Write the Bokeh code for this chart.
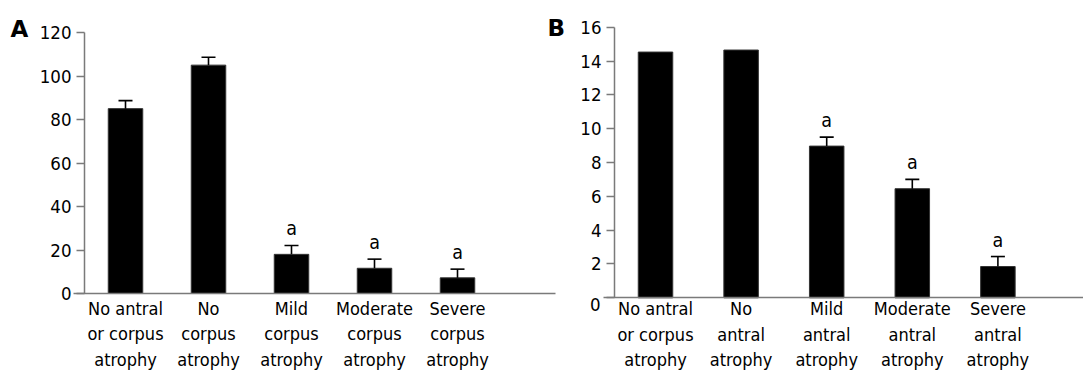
from bokeh.plotting import figure
from bokeh.layouts import row
from bokeh.models import FixedTicker, Label, Range1d
from bokeh.core.properties import value
from bokeh.embed import file_html
from bokeh.resources import INLINE

FONT = "DejaVu Sans Condensed"

# ---------------- data ----------------
cats_a = ["No antral\nor corpus\natrophy", "No\ncorpus\natrophy", "Mild\ncorpus\natrophy",
          "Moderate\ncorpus\natrophy", "Severe\ncorpus\natrophy"]
vals_a = [85.0, 105.0, 18.0, 11.6, 7.2]
errs_a = [3.7, 3.6, 4.1, 4.2, 4.0]
sig_a = ["", "", "a", "a", "a"]
yticks_a = [0, 20, 40, 60, 80, 100, 120]

cats_b = ["No antral\nor corpus\natrophy", "No\nantral\natrophy", "Mild\nantral\natrophy",
          "Moderate\nantral\natrophy", "Severe\nantral\natrophy"]
vals_b = [14.53, 14.65, 8.97, 6.45, 1.85]
errs_b = [0.0, 0.0, 0.53, 0.55, 0.59]
sig_b = ["", "", "a", "a", "a"]
yticks_b = [0, 2, 4, 6, 8, 10, 12, 14, 16]

AXIS_COLOR = "#7a7a7a"
H = 372


class Geo:
    """pixel layout of one panel (canvas-local pixels)"""
    def __init__(self, width, bar1_px, step_px, zero_py, top_py, ymax, axis_px, xline_start_px,
                 xline_end_px):
        self.width = width
        self.bar1 = bar1_px
        self.step = step_px
        self.zero = zero_py
        self.ppu = (zero_py - top_py) / ymax
        self.axis_px = axis_px
        self.xs_px = xline_start_px
        self.xe_px = xline_end_px

    def dx(self, px):
        return 1 + (px - self.bar1) / self.step

    def dy(self, py):
        return (self.zero - py) / self.ppu


def make_panel(g, cats, vals, errs, sig, yticks, ymax, x_standoff, cap_px):
    xs = list(range(1, len(cats) + 1))
    p = figure(width=g.width, height=H, output_backend="svg", toolbar_location=None,
               x_range=Range1d(g.dx(0), g.dx(g.width)), y_range=Range1d(g.dy(H), g.dy(0)),
               min_border_left=0, min_border_right=0, min_border_top=0, min_border_bottom=0)
    p.outline_line_color = None
    p.grid.visible = False
    p.background_fill_color = "white"
    p.border_fill_color = "white"

    p.vbar(x=xs, top=vals, bottom=0, width=34.5 / g.step, fill_color="black",
           line_color="#333333", line_width=1)

    ex, ey0, ey1 = [], [], []
    for x, v, e in zip(xs, vals, errs):
        if e > 0:
            ex.append(x); ey0.append(v); ey1.append(v + e)
    half = cap_px / 2 / g.step
    p.segment(x0=ex, y0=ey0, x1=ex, y1=ey1, line_color="black", line_width=1.6)
    p.segment(x0=[x - half for x in ex], y0=ey1, x1=[x + half for x in ex], y1=ey1,
              line_color="black", line_width=1.6)

    p.text(x=xs, y=[v + e for v, e in zip(vals, errs)], text=sig, text_align="center",
           text_baseline="middle", y_offset=-16.5, text_font=value(FONT), text_font_size="19.5px",
           text_color="black")

    ax_x = g.dx(g.axis_px)

    # y axis
    ya = p.yaxis[0]
    ya.fixed_location = ax_x
    ya.bounds = (0, ymax)
    ya.ticker = FixedTicker(ticks=yticks)
    ya.minor_tick_line_color = None
    ya.major_tick_in = 0
    ya.major_tick_out = 8
    ya.axis_line_color = AXIS_COLOR
    ya.major_tick_line_color = AXIS_COLOR
    ya.axis_line_width = 1.5
    ya.major_tick_line_width = 1.5
    ya.major_label_standoff = 5
    ya.major_label_text_font = FONT
    ya.major_label_text_font_size = "18.5px"
    ya.major_label_text_color = "black"

    # x axis
    xa = p.xaxis[0]
    xa.fixed_location = 0
    xa.bounds = (g.dx(g.xs_px), g.dx(g.xe_px))
    xa.ticker = FixedTicker(ticks=xs)
    xa.major_label_overrides = {x: c for x, c in zip(xs, cats)}
    xa.minor_tick_line_color = None
    xa.major_tick_line_color = None
    xa.major_tick_in = 0
    xa.major_tick_out = 0
    xa.axis_line_color = AXIS_COLOR
    xa.axis_line_width = 1.5
    xa.major_label_standoff = x_standoff
    xa.major_label_text_font = FONT
    xa.major_label_text_font_size = "18px"
    xa.major_label_text_line_height = 1.23
    xa.major_label_text_color = "black"
    return p


ga = Geo(width=565, bar1_px=125, step_px=83, zero_py=293, top_py=32, ymax=120,
         axis_px=84, xline_start_px=73, xline_end_px=555)
gb = Geo(width=518, bar1_px=90, step_px=85.6, zero_py=297.3, top_py=26.7, ymax=16,
         axis_px=49, xline_start_px=38, xline_end_px=518)

pa = make_panel(ga, cats_a, vals_a, errs_a, sig_a, yticks_a, 120, 4, 14)
pb = make_panel(gb, cats_b, vals_b, errs_b, sig_b, yticks_b, 16, 0, 14)

# B panel: its zero label sits just below the axis line
pb.yaxis[0].major_label_overrides = {yticks_b[0]: ""}
pb.text(x=[gb.dx(gb.axis_px)], y=[yticks_b[0]], text=[str(yticks_b[0])], x_offset=-14,
        y_offset=7, text_align="right", text_baseline="middle", text_font=value(FONT),
        text_font_size="18.5px", text_color="black")

for txt, px, py in (("A", 10, 28.5), ("B", 547, 27.5)):
    pa.add_layout(Label(x=ga.dx(px), y=ga.dy(py), text=txt, text_font="DejaVu Sans",
                        text_font_style="bold", text_font_size="23px", text_align="left",
                        text_baseline="middle", text_color="black"))

layout = row(pa, pb)
open("out.html", "w").write(file_html(layout, INLINE))
